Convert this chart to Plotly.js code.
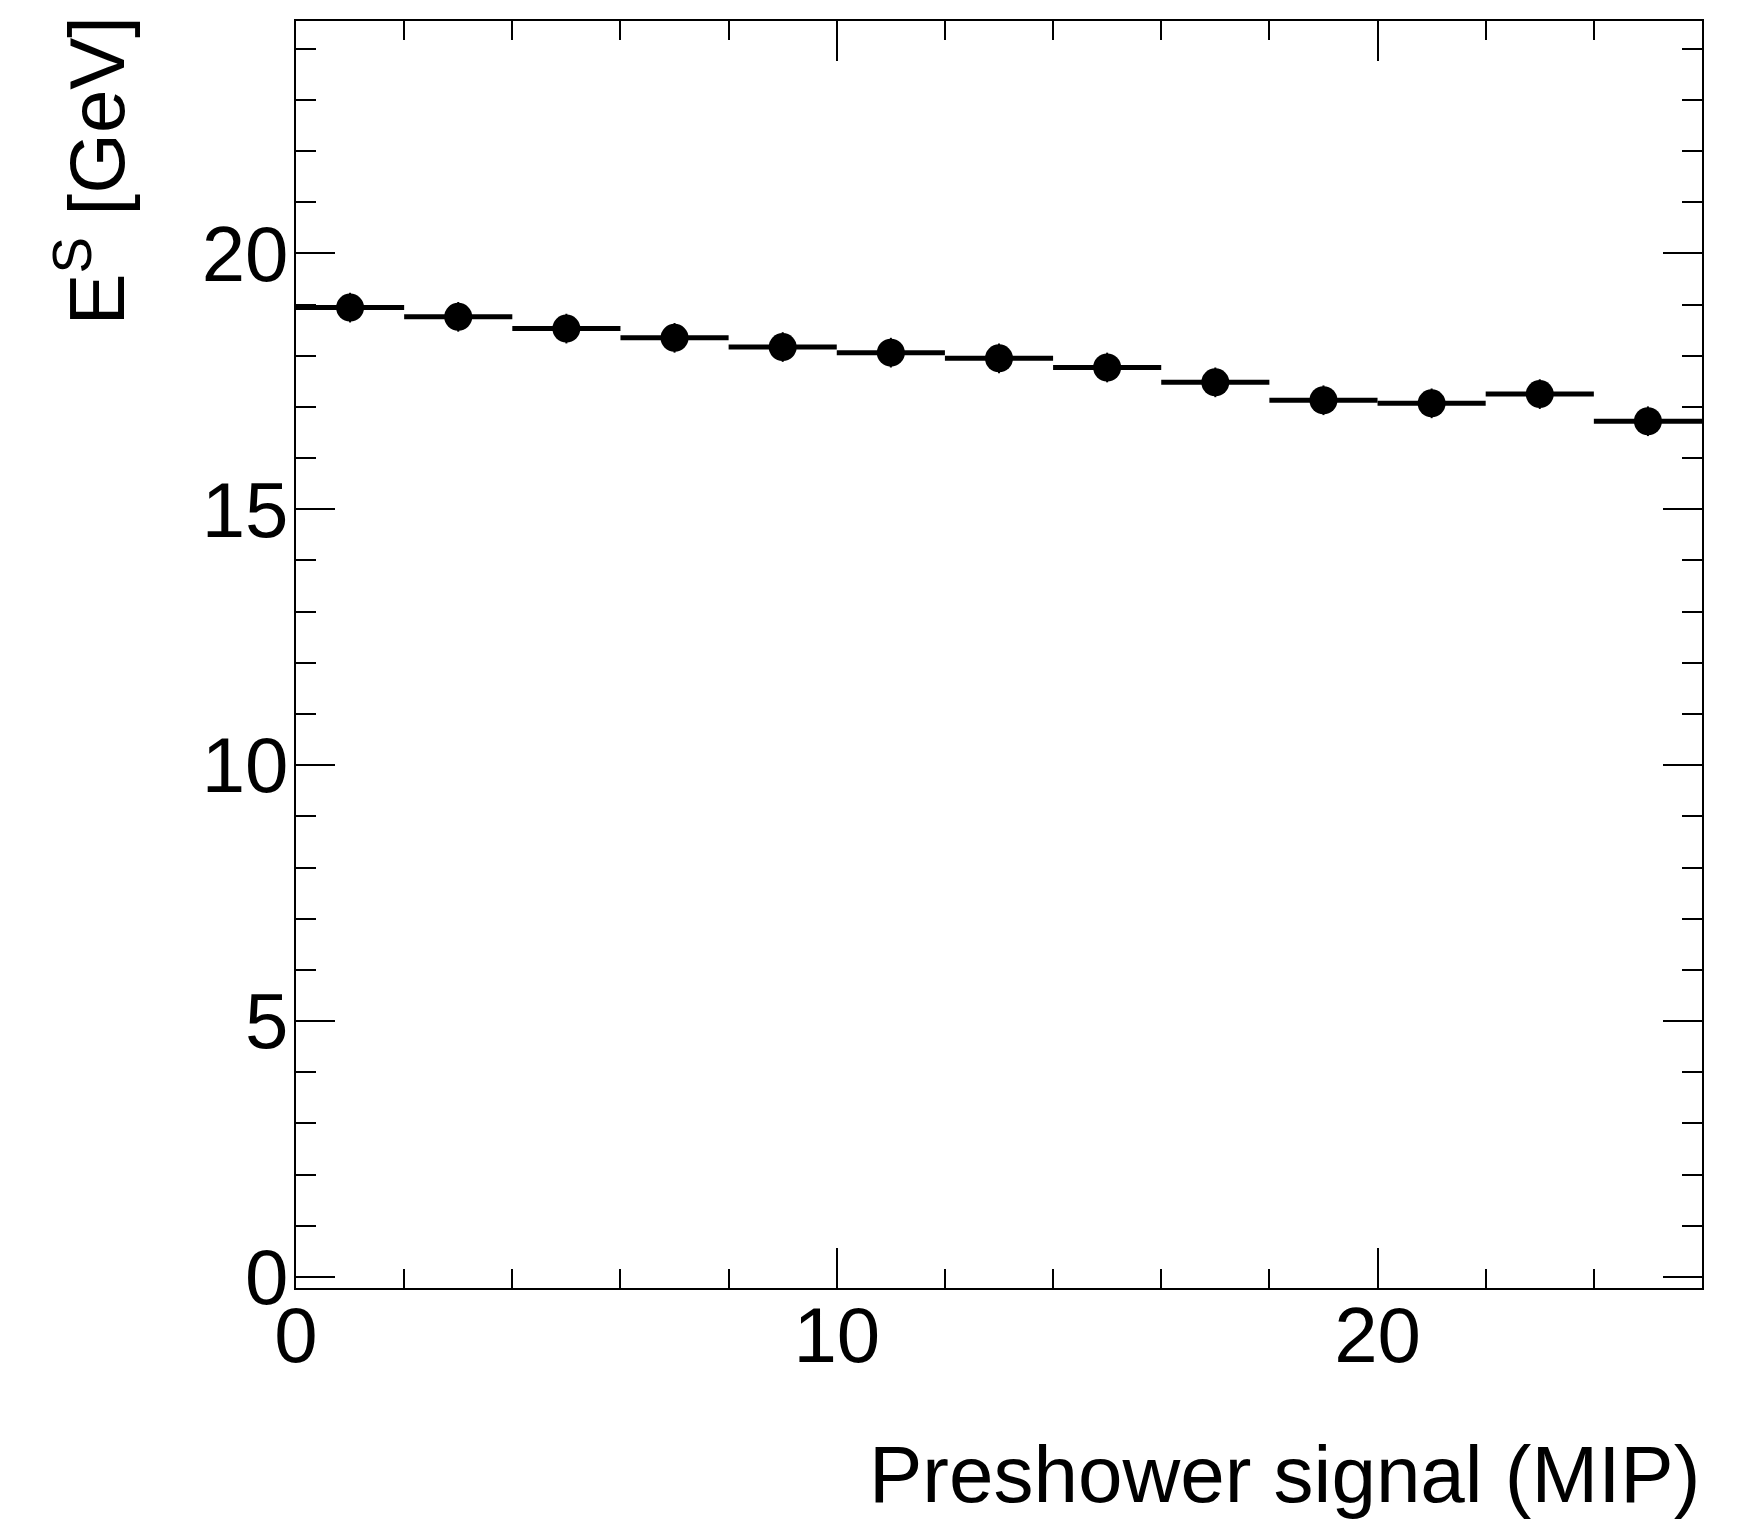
<!DOCTYPE html>
<html>
<head>
<meta charset="utf-8">
<script src="https://cdn.plot.ly/plotly-3.0.1.min.js"></script>
<style>html,body{margin:0;padding:0;background:#fff;}</style>
</head>
<body>
<div id="chart" style="width:1753px;height:1520px;"></div>
<script>
// Bin centres (MIP), bin half-width and measured mean energy
const binCenters = [1, 3, 5, 7, 9, 11, 13, 15, 17, 19, 21, 23, 25];
const binHalfWidth = [1, 1, 1, 1, 1, 1, 1, 1, 1, 1, 1, 1, 1];
const energyS = [18.94, 18.76, 18.53, 18.35, 18.17, 18.06, 17.95, 17.77, 17.48, 17.13, 17.07, 17.25, 16.72];
const energyErr = [0.29, 0.29, 0.29, 0.29, 0.29, 0.29, 0.29, 0.29, 0.29, 0.29, 0.29, 0.29, 0.29];

const xTitle = "Preshower signal (MIP)";
const yTitle = "E<sup>S</sup> [GeV]";

const FONT = "Liberation Sans, Arial, Helvetica, sans-serif";

const trace = {
  type: "scatter",
  mode: "markers",
  x: binCenters,
  y: energyS,
  marker: {symbol: "circle", size: 28, color: "#000"},
  error_x: {type: "data", array: binHalfWidth, symmetric: true, width: 0, thickness: 5, color: "#000"},
  error_y: {type: "data", array: energyErr, symmetric: true, width: 0, thickness: 2, color: "#000"},
  showlegend: false,
  hoverinfo: "x+y"
};

const axisCommon = {
  showgrid: false,
  zeroline: false,
  showline: true,
  linecolor: "#000",
  linewidth: 2,
  mirror: "ticks",
  ticks: "inside",
  tickcolor: "#000",
  tickwidth: 2,
  tickfont: {family: FONT, size: 78, color: "#000"}
};

const layout = {
  width: 1753,
  height: 1520,
  margin: {l: 296, r: 51, t: 21, b: 232, pad: 0},
  paper_bgcolor: "#fff",
  plot_bgcolor: "#fff",
  font: {family: FONT, color: "#000"},
  xaxis: Object.assign({}, axisCommon, {
    range: [0, 26],
    tickmode: "linear", tick0: 0, dtick: 10,
    ticklen: 40,
    minor: {dtick: 2, ticklen: 19, ticks: "inside", tickcolor: "#000", tickwidth: 2, showgrid: false},
    ticklabelstandoff: -22
  }),
  yaxis: Object.assign({}, axisCommon, {
    range: [-0.215, 24.54],
    tickmode: "linear", tick0: 0, dtick: 5,
    ticklen: 39,
    minor: {dtick: 1, ticklen: 20, ticks: "inside", tickcolor: "#000", tickwidth: 2, showgrid: false},
    ticklabelstandoff: -10
  }),
  annotations: [
    {
      text: xTitle, xref: "paper", yref: "paper", x: 1, y: 0,
      xanchor: "right", yanchor: "top", yshift: -140, showarrow: false,
      font: {family: FONT, size: 80, color: "#000"}
    },
    {
      text: yTitle, xref: "paper", yref: "paper", x: 0, y: 1,
      xanchor: "right", yanchor: "top", xshift: -153, yshift: 7, showarrow: false, textangle: -90,
      font: {family: FONT, size: 78, color: "#000"}
    }
  ]
};

Plotly.newPlot("chart", [trace], layout, {displayModeBar: false, staticPlot: true});
</script>
</body>
</html>
